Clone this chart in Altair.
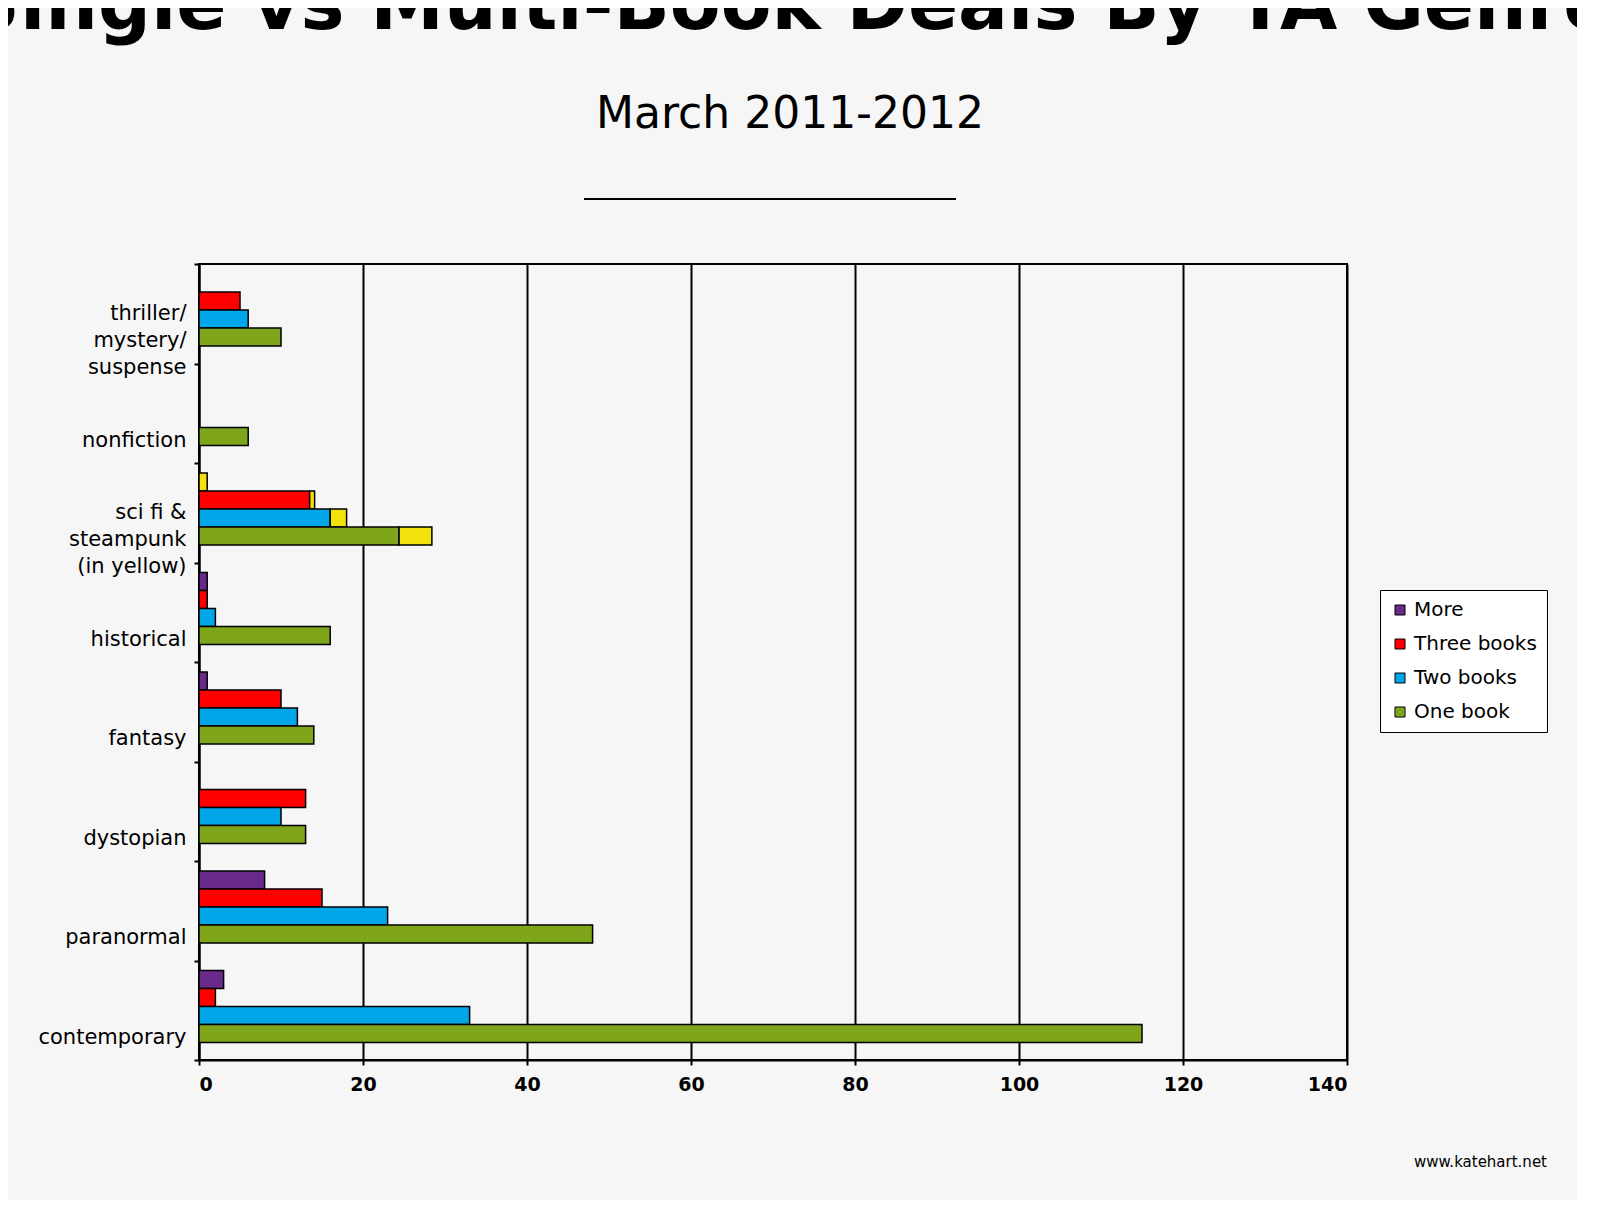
import pandas as pd
import altair as alt

genres = ["thriller/|mystery/|suspense", "nonfiction", "sci fi &|steampunk|(in yellow)",
          "historical", "fantasy", "dystopian", "paranormal", "contemporary"]
types = ["More", "Three books", "Two books", "One book"]

# main values per genre: More, Three, Two, One
more_vals = [0, 0, 0, 1, 1, 0, 8, 3]
three_vals = [5, 0, 13.5, 1, 10, 13, 15, 2]
two_vals = [6, 0, 16, 2, 12, 10, 23, 33]
one_vals = [10, 6, 24.4, 16, 14, 13, 48, 115]
# steampunk share (yellow), only sci fi row
steam_vals = [1, 0.6, 2, 4]

rows = []
series = [more_vals, three_vals, two_vals, one_vals]
for gi, g in enumerate(genres):
    for ti, t in enumerate(types):
        rows.append({"genre": g, "type": t, "part": 0, "key": t, "value": series[ti][gi]})
        if gi == 2:
            rows.append({"genre": g, "type": t, "part": 1, "key": "Steampunk", "value": steam_vals[ti]})
df = pd.DataFrame(rows)

font = "DejaVu Sans"

bars = alt.Chart(df).mark_bar(stroke="black", strokeWidth=1.5).encode(
    x=alt.X("value:Q", stack="zero", scale=alt.Scale(domain=[0, 140]),
            axis=alt.Axis(values=list(range(0, 141, 20)), title=None, grid=True,
                          gridColor="black", gridWidth=2, domainColor="black", domainWidth=2,
                          tickColor="black", tickWidth=2, labelFontSize=19, labelFontWeight="bold",
                          labelFont=font, labelColor="black", labelPadding=10)),
    y=alt.Y("genre:N", sort=genres, scale=alt.Scale(paddingInner=0, paddingOuter=0),
            axis=alt.Axis(title=None,
                          labelExpr="indexof(datum.label, '|') < 0 ? [' ', ' ', ' ', datum.label] : split(datum.label, '|')",
                          labelFontSize=21, labelFont=font, labelColor="black",
                          domainColor="black", domainWidth=2,
                          tickColor="black", tickWidth=2, tickBand="extent", labelPadding=8,
                          labelLineHeight=27)),
    yOffset=alt.YOffset("type:N", sort=types,
                        scale=alt.Scale(paddingOuter=0, paddingInner=0, range=[10, 82])),
    color=alt.Color("key:N",
                    scale=alt.Scale(domain=types + ["Steampunk"],
                                    range=["#6a2a8a", "#ff0000", "#00a6e8", "#7fa51a", "#f2e10a"]),
                    legend=alt.Legend(values=types, title=None, orient="none", legendX=1181,
                                      legendY=326, labelFontSize=20, labelFont=font,
                                      labelColor="black", strokeColor="black", padding=10,
                                      symbolType="square", symbolStrokeColor="black",
                                      symbolStrokeWidth=1, rowPadding=14, fillColor="white")),
    order=alt.Order("part:Q"),
)

underline = alt.Chart(pd.DataFrame({"a": [0]})).mark_rule(color="black", strokeWidth=2).encode(
    x=alt.value(385), x2=alt.value(757), y=alt.value(-65)
)

credit = alt.Chart(pd.DataFrame({"t": ["www.katehart.net"]})).mark_text(
    fontSize=15, font=font, color="black", align="right"
).encode(x=alt.value(1348), y=alt.value(898), text="t:N")

chart = alt.layer(bars, underline, credit).properties(
    width=1148, height=796,
    autosize=alt.AutoSizeParams(type="none"),
    title=alt.Title("Single vs Multi-Book Deals By YA Genre", subtitle="March 2011-2012",
                    fontSize=74, font=font, fontWeight="bold", color="black",
                    subtitleFontSize=44, subtitleFont=font, subtitleColor="black",
                    subtitlePadding=48, offset=60, anchor="middle", dx=17),
    background="#f7f6f6",
    padding={"left": 191, "top": 256, "right": 230, "bottom": 140},
).configure_view(stroke="black", strokeWidth=2)

chart.save("out.html", embed_options={"renderer": "svg", "actions": False})
